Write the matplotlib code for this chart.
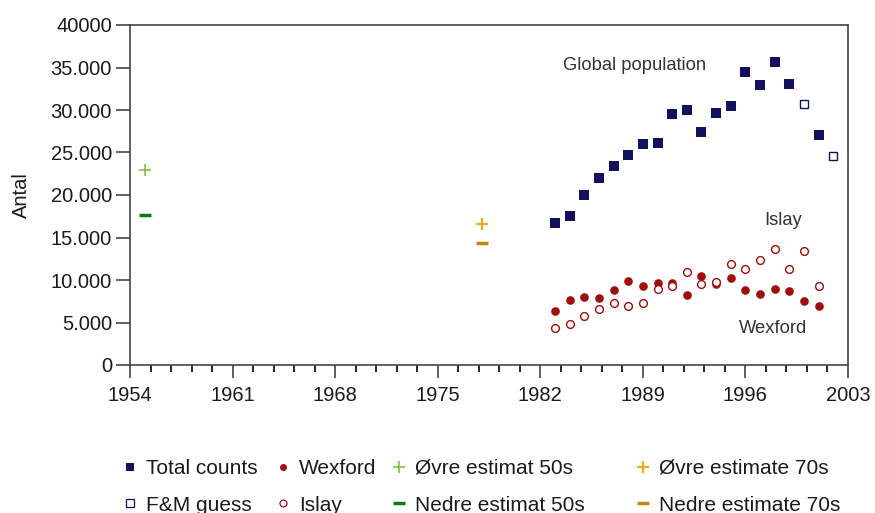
import matplotlib
matplotlib.use("Agg")
import matplotlib.pyplot as plt
import numpy as np
from matplotlib.ticker import FixedLocator
from matplotlib.lines import Line2D

plt.rcParams["font.family"] = ["Liberation Sans", "DejaVu Sans"]

# ── data ─────────────────────────────────────────────────────────────────
total_years = [1983, 1984, 1985, 1986, 1987, 1988, 1989, 1990, 1991, 1992,
               1993, 1994, 1995, 1996, 1997, 1998, 1999, 2001]
total_counts = [16700, 17550, 20050, 21950, 23400, 24650, 26050, 26100, 29500,
                30050, 27400, 29700, 30500, 34500, 32900, 35600, 33100, 27050]

fm_years = [2000, 2002]
fm_guess = [30650, 24600]

bird_years = list(range(1983, 2002))
wexford = [6400, 7650, 8050, 7850, 8800, 9900, 9350, 9700, 9600, 8200,
           10450, 9500, 10250, 8800, 8350, 9000, 8650, 7550, 7000]
islay = [4300, 4800, 5750, 6550, 7350, 6900, 7300, 8950, 9300, 10950,
         9550, 9800, 11850, 11300, 12300, 13700, 11300, 13400, 9300]

est50_year = [1955]
ovre_50s = [23000]
nedre_50s = [17600]
est70_year = [1978]
ovre_70s = [16600]
nedre_70s = [14400]

x_ticks = [1954, 1961, 1968, 1975, 1982, 1989, 1996, 2003]
y_ticks = [0, 5000, 10000, 15000, 20000, 25000, 30000, 35000, 40000]
y_labels = ["0", "5.000", "10.000", "15.000", "20.000", "25.000",
            "30.000", "35.000", "40000"]

NAVY = "#11115e"
RED = "#a10c0c"
LGREEN = "#7cc242"
DGREEN = "#0a7a1f"
ORANGE = "#f5a623"
GOLD = "#bf8a0c"
TXT = "#1a1a1a"
FS = 14.5

fig = plt.figure(figsize=(8.75, 5.13), dpi=100)
ax = fig.add_axes([130 / 875, 1 - 365 / 513, 718 / 875, 340 / 513])

ax.plot(total_years, total_counts, "s", color=NAVY, ms=6.5, mew=0, ls="none")
ax.plot(fm_years, fm_guess, "s", mfc="white", mec=NAVY, ms=6.2, mew=1.0, ls="none")
ax.plot(bird_years, wexford, "o", color=RED, ms=6.2, mew=0, ls="none")
ax.plot(bird_years, islay, "o", mfc="white", mec=RED, ms=5.6, mew=1.0, ls="none")
ax.plot(est50_year, ovre_50s, "+", color=LGREEN, ms=8, mew=1.2, ls="none")
ax.plot(est50_year, nedre_50s, "_", color=DGREEN, ms=8, mew=2.5, ls="none")
ax.plot(est70_year, ovre_70s, "+", color=ORANGE, ms=8, mew=1.6, ls="none")
ax.plot(est70_year, nedre_70s, "_", color=GOLD, ms=8, mew=2.5, ls="none")

ax.text(1988.45, 35200, "Global population", fontsize=13.2, color="#333333",
        ha="center", va="center")
ax.text(1998.6, 17000, "Islay", fontsize=13.2, color="#333333",
        ha="center", va="center")
ax.text(1997.9, 4300, "Wexford", fontsize=13.2, color="#333333",
        ha="center", va="center")

ax.set_xlim(1954, 2003)
ax.set_ylim(0, 40000)
ax.xaxis.set_major_locator(FixedLocator(x_ticks))
ax.xaxis.set_minor_locator(FixedLocator(np.arange(1954, 2003.01, 1.4)))
ax.set_yticks(y_ticks)
ax.set_yticklabels(y_labels)
ax.set_xticklabels([str(v) for v in x_ticks])
ax.tick_params(axis="both", labelsize=FS, colors="#444444", labelcolor=TXT)
ax.tick_params(axis="x", which="major", length=9, width=1.2, pad=6)
ax.tick_params(axis="x", which="minor", length=5, width=1.2)
ax.tick_params(axis="y", which="major", length=10, width=1.2, pad=3)
for sp in ax.spines.values():
    sp.set_color("#444444")
    sp.set_linewidth(1.2)
ax.set_ylabel("Antal", fontsize=FS, color=TXT, labelpad=14)

# ── legend (four columns of two) ─────────────────────────────────────────
def h(marker, **kw):
    return Line2D([], [], marker=marker, ls="none", **kw)

columns = [
    ([h("s", color=NAVY, ms=5.5, mew=0),
      h("s", mfc="white", mec=NAVY, ms=5.5, mew=0.9)],
     ["Total counts", "F&M guess"], 121),
    ([h("o", color=RED, ms=5, mew=0),
      h("o", mfc="white", mec=RED, ms=5, mew=0.9)],
     ["Wexford", "Islay"], 274),
    ([h("+", color=LGREEN, ms=8, mew=1.2),
      h("_", color=DGREEN, ms=8, mew=2.5)],
     ["Øvre estimat 50s", "Nedre estimat 50s"], 390),
    ([h("+", color=ORANGE, ms=8, mew=1.6),
      h("_", color=GOLD, ms=8, mew=2.5)],
     ["Øvre estimate 70s", "Nedre estimate 70s"], 634),
]
for handles, labels, xpx in columns:
    leg = fig.legend(handles, labels, loc="upper left",
                     bbox_to_anchor=(xpx / 875, 1 - 459 / 513),
                     frameon=False, fontsize=15, handlelength=0.9,
                     handletextpad=0.3, labelspacing=0.85, borderaxespad=0,
                     borderpad=0)
    for t in leg.get_texts():
        t.set_color(TXT)

fig.savefig("out.png", dpi=100, facecolor="white")
